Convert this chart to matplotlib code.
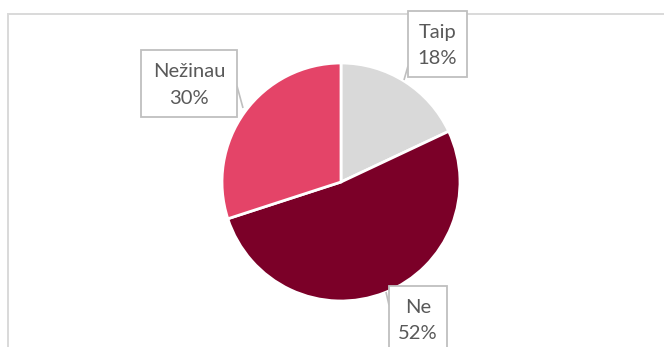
import matplotlib
matplotlib.use("Agg")
import matplotlib.pyplot as plt
from matplotlib.patches import Rectangle

# Survey answers and their shares (%)
categories = ["Taip", "Ne", "Nežinau"]
shares = [18, 52, 30]
colors = ["#D9D9D9", "#7B0028", "#E44468"]

W, H = 664, 347
fig = plt.figure(figsize=(W / 100, H / 100), dpi=100)
ax = fig.add_axes([0, 0, 1, 1])
ax.set_xlim(0, W)
ax.set_ylim(0, H)
ax.set_aspect("equal")
ax.axis("off")

def py(y):
    # pixel-style y (from top) to axes y
    return H - y

# chart area frame (top and left edges visible)
ax.add_patch(Rectangle((7.5, py(400)), 800, 400 - 13.5, fill=False,
                       edgecolor="#D9D9D9", linewidth=1.4, zorder=0))

wedges, _ = ax.pie(shares, colors=colors, startangle=90, counterclock=False,
                   center=(341, py(182)), radius=119, frame=True,
                   wedgeprops=dict(edgecolor="white", linewidth=2))
ax.set_xlim(0, W)
ax.set_ylim(0, H)
ax.axis("off")

label_boxes = {
    "Taip": (408, 11, 467, 77),
    "Ne": (389, 286, 447, 352),
    "Nežinau": (141, 50, 237, 117),
}
leaders = {
    "Taip": ((408, 66), (404, 80)),
    "Ne": ((389, 305), (386, 292)),
    "Nežinau": ((237, 86), (243, 108)),
}

for cat, val in zip(categories, shares):
    x0, y0, x1, y1 = label_boxes[cat]
    (lx0, ly0), (lx1, ly1) = leaders[cat]
    ax.plot([lx0, lx1], [py(ly0), py(ly1)], color="#BFBFBF", linewidth=1.2,
            zorder=4, solid_capstyle="butt")
    ax.add_patch(Rectangle((x0, py(y1)), x1 - x0, y1 - y0, facecolor="white",
                           edgecolor="#BFBFBF", linewidth=1.3, zorder=5))
    ax.text((x0 + x1) / 2, py((y0 + y1) / 2 + 1.5), f"{cat}\n{val}%",
            ha="center", va="center", fontsize=14.5, family=["Lato", "DejaVu Sans"],
            color="#595959", linespacing=1.7, zorder=6)

fig.savefig("out.png", dpi=100)
